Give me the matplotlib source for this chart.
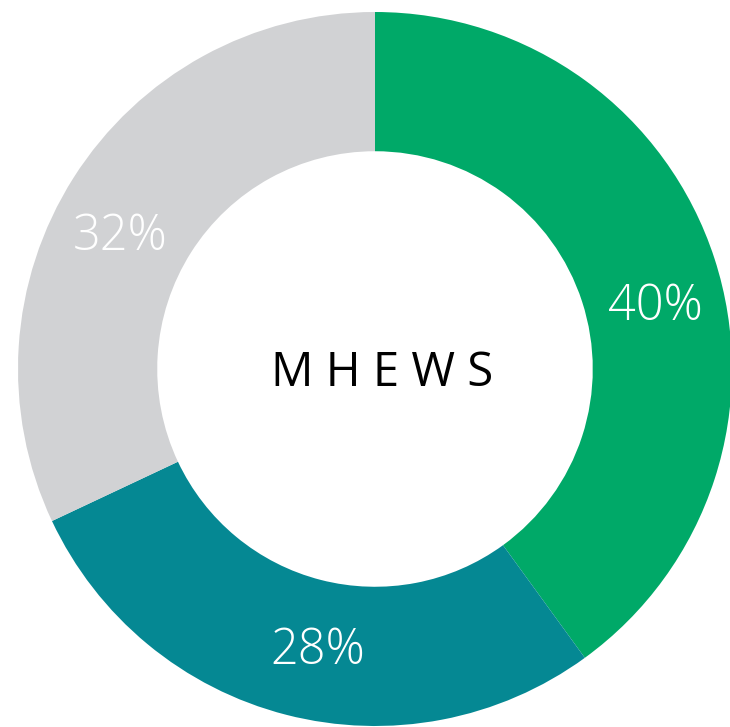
import numpy as np
import matplotlib

matplotlib.use("Agg")
import matplotlib.pyplot as plt

# data
labels = ["40%", "28%", "32%"]
shares = [40, 28, 32]
colors = ["#00A968", "#058893", "#D1D2D4"]
center_text = "M H E W S"

# label placement: radius fraction and angular nudge (deg) from wedge middle
label_r = 0.805
label_nudge = [-5.5, 3, 5]

W, H = 730, 727
cx, cy = 375, H - 369
R = 357
ring = 0.39

fig = plt.figure(figsize=(W / 100, H / 100), dpi=100)
ax = fig.add_axes([0, 0, 1, 1])
wedges, _ = ax.pie(
    shares,
    colors=colors,
    startangle=90,
    counterclock=False,
    center=(cx, cy),
    radius=R,
    wedgeprops=dict(width=R * ring, linewidth=0),
)

for w, lab, nudge in zip(wedges, labels, label_nudge):
    mid = np.deg2rad((w.theta1 + w.theta2) / 2 + nudge)
    ax.text(
        cx + label_r * R * np.cos(mid),
        cy + label_r * R * np.sin(mid),
        lab,
        color="white",
        fontsize=35,
        family="Open Sans",
        fontweight="light",
        ha="center",
        va="center",
    )

ax.text(cx + 7, cy - 4, center_text, color="black", fontsize=34,
        family="Open Sans", ha="center", va="center")

ax.set_aspect("auto")
ax.set_xlim(0, W)
ax.set_ylim(0, H)
ax.axis("off")
fig.savefig("out.png", dpi=100)
